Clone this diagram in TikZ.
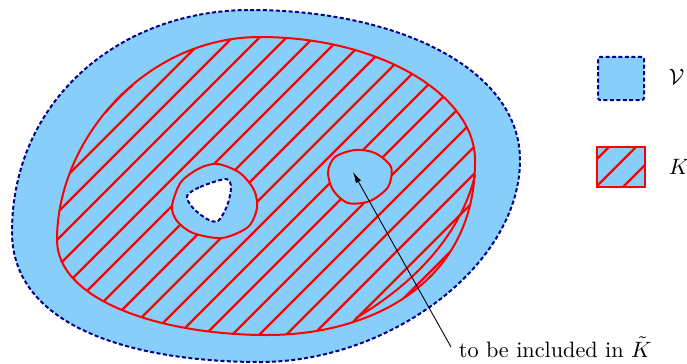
\documentclass[tikz,border=0pt]{standalone}
\usepackage{amsmath, amssymb}
\usepackage[dvipsnames]{xcolor}
\usepackage{tikz}
\usetikzlibrary{arrows.meta}

\definecolor{vblue}{RGB}{135,206,250}
\definecolor{vdash}{RGB}{0,0,140}

\begin{document}
\begin{tikzpicture}[x=0.45pt, y=-0.45pt,
  vborder/.style={vdash, line width=0.9pt, dash pattern=on 1.8pt off 1.1pt},
  kborder/.style={red, line width=0.9pt},
  hatch/.style={red, line width=1pt}]
  \useasboundingbox (0,0) rectangle (687,363);
  % the open set V
  \draw[vborder, fill=vblue] (250,10) .. controls (400,10) and (520,70) .. (520,160)
    .. controls (520,265) and (390,362) .. (260,362)
    .. controls (140,362) and (12,330) .. (12,232)
    .. controls (12,100) and (120,10) .. cycle;
  % the compact set K, hatched
  \path[save path=\kpath] (260,37) .. controls (380,37) and (475,95) .. (475,160)
    .. controls (476,280) and (375,335) .. (267,335)
    .. controls (160,335) and (57,300) .. (57,240)
    .. controls (57,140) and (145,37) .. cycle;
  \begin{scope}
    \clip[use path=\kpath];
    \foreach \k in {2,...,32}
      \draw[hatch] (27*\k,0) -- ++(-420,420);
  \end{scope}
  \draw[kborder, use path=\kpath];
  \draw[kborder] (105,113) .. controls (113,104) and (122,94) .. (133,85);
  \draw[kborder] (475,175) .. controls (462,230) and (420,280) .. (356,318);
  % holes of K
  \draw[kborder, fill=vblue] plot[smooth cycle] coordinates {(172,206) (181,182) (200,168) (218,164) (240,173) (254,190) (257,208) (248,227) (222,238) (193,233) (177,221)};
  \draw[vborder, fill=white] plot[smooth cycle] coordinates {(187,196) (200,187) (226,179) (231,188) (227,206) (218,221) (207,219) (193,208)};
  \draw[kborder, fill=vblue] plot[smooth cycle] coordinates {(328,172) (335,157) (355,150) (375,153) (391,167) (388,187) (370,201) (348,203) (333,190)};
  % legend
  \node[vborder, draw, fill=vblue, rounded corners=1pt, minimum width=20.7pt, minimum height=19.4pt] (vkey) at (621,78.5) {};
  \node[anchor=west] (vlab) at (661,77) {$\mathcal{V}$};
  \node[fill=vblue, minimum width=21.6pt, minimum height=18pt, inner sep=0pt] (kkey) at (621,167) {};
  \begin{scope}
    \clip (kkey.south west) rectangle (kkey.north east);
    \foreach \k in {27,...,31}
      \draw[hatch] (27*\k,0) -- ++(-420,420);
  \end{scope}
  \draw[kborder] (kkey.south west) rectangle (kkey.north east);
  \node[anchor=west] (klab) at (661,167) {$K$};
  % pointer to the small hole
  \node[anchor=west] (incl) at (451,347) {to be included in $\tilde{K}$};
  \coordinate (tip) at (353,172);
  \draw[-{Latex[length=5pt,width=2.6pt]}, line width=0.4pt] (incl.west) -- (tip);
\end{tikzpicture}
\end{document}
